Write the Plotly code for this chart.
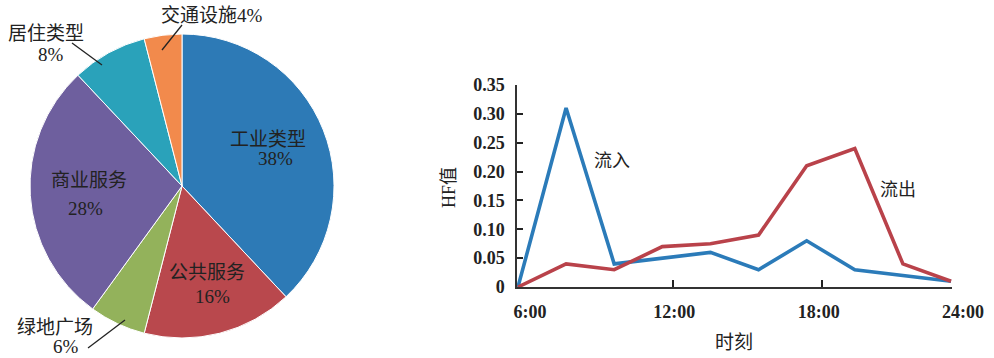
import plotly.graph_objects as go

# Pie data (clockwise from 12 o'clock)
pie_labels = ["工业类型", "公共服务", "绿地广场", "商业服务", "居住类型", "交通设施"]
pie_values = [38, 16, 6, 28, 8, 4]
pie_colors = ["#2d7ab6", "#b9484d", "#93b25b", "#6e5f9e", "#2aa2ba", "#f28a4c"]

# Line chart data
hours = [6, 8, 10, 12, 14, 16, 18, 20, 22, 24]
inflow = [0, 0.31, 0.04, 0.05, 0.06, 0.03, 0.08, 0.03, 0.02, 0.01]
outflow = [0, 0.04, 0.03, 0.07, 0.075, 0.09, 0.21, 0.24, 0.04, 0.01]
x_label_vals = [6, 12, 18, 24]
x_tick_text = ["6:00", "12:00", "18:00", "24:00"]
x_tick_marks = [12.44, 18.64]
y_tick_vals = [0, 0.05, 0.10, 0.15, 0.20, 0.25, 0.30, 0.35]
y_tick_text = ["0", "0.05", "0.10", "0.15", "0.20", "0.25", "0.30", "0.35"]

W, H = 994, 358
def px(x):
    return x / W
def py(y):
    return 1 - y / H

SERIF = "Liberation Serif"
CJK = "Noto Sans CJK SC"
TXT = "#222222"

fig = go.Figure()

fig.add_trace(go.Pie(
    labels=pie_labels, values=pie_values, sort=False, direction="clockwise",
    rotation=0, textinfo="none", hoverinfo="label+percent",
    marker=dict(colors=pie_colors, line=dict(color="white", width=1)),
    domain=dict(x=[px(30), px(334)], y=[py(338), py(34)]),
    showlegend=False,
))

fig.add_trace(go.Scatter(x=hours, y=inflow, mode="lines", name="流入",
                         line=dict(color="#2b7bb9", width=3.6), showlegend=False))
fig.add_trace(go.Scatter(x=hours, y=outflow, mode="lines", name="流出",
                         line=dict(color="#b9424a", width=3.6), showlegend=False))

annots = []
def lab(text, x, y, size=19):
    annots.append(dict(text=text, x=px(x), y=py(y), xref="paper", yref="paper",
                       showarrow=False, xanchor="center", yanchor="middle",
                       font=dict(family=f"{SERIF}, {CJK}", size=size, color=TXT)))

# pie labels
lab("工业类型", 268, 140)
lab("38%", 275, 159)
lab("公共服务", 207, 272)
lab("16%", 212, 296)
lab("商业服务", 89, 180)
lab("28%", 85, 208)
lab("交通设施4%", 212, 16)
lab("居住类型", 46, 33)
lab("8%", 51, 54)
lab("绿地广场", 55, 327)
lab("6%", 66, 346)

# line labels
lab("流入", 612, 161, 18)
lab("流出", 898, 190, 18)
lab("时刻", 734, 342, 19)
annots.append(dict(text="HF值", x=px(449), y=py(188), xref="paper", yref="paper",
                   showarrow=False, textangle=-90, xanchor="center", yanchor="middle",
                   font=dict(family=f"{SERIF}, {CJK}", size=18, color=TXT)))

shapes = [
    dict(type="line", xref="paper", yref="paper", x0=px(162), y0=py(50), x1=px(182), y1=py(25),
         line=dict(color="#222", width=1.3)),
    dict(type="line", xref="paper", yref="paper", x0=px(72), y0=py(43), x1=px(102), y1=py(65),
         line=dict(color="#222", width=1.3)),
    dict(type="line", xref="paper", yref="paper", x0=px(88), y0=py(348), x1=px(125), y1=py(320),
         line=dict(color="#222", width=1.3)),
]

fig.update_layout(
    width=W, height=H, margin=dict(l=0, r=0, t=0, b=0, autoexpand=False),
    paper_bgcolor="white", plot_bgcolor="white",
    annotations=annots, shapes=shapes,
    xaxis=dict(domain=[px(517), px(952)], range=[5.96, 24.04],
               tickvals=x_label_vals, ticktext=x_tick_text, ticks="",
               ticklabelshift=12,
               minor=dict(tickvals=x_tick_marks, ticks="inside", ticklen=7,
                          tickcolor="#222", tickwidth=1.5, showgrid=False),
               showgrid=False, zeroline=False, showline=True, linecolor="#333", linewidth=1.5,
               ticklabelstandoff=8,
               tickfont=dict(family=SERIF, size=18, color=TXT, weight="bold")),
    yaxis=dict(domain=[py(287), py(85)], range=[0, 0.35],
               tickvals=y_tick_vals, ticktext=y_tick_text,
               showgrid=False, zeroline=False, showline=True, linecolor="#333", linewidth=1.5,
               ticks="inside", ticklen=6, tickcolor="#222", tickwidth=1.5,
               ticklabelstandoff=7,
               tickfont=dict(family=SERIF, size=18, color=TXT, weight="bold")),
)

fig.write_html("out.html", config={"displayModeBar": False},
               post_script="document.body.style.margin='0';document.body.style.padding='0';")
